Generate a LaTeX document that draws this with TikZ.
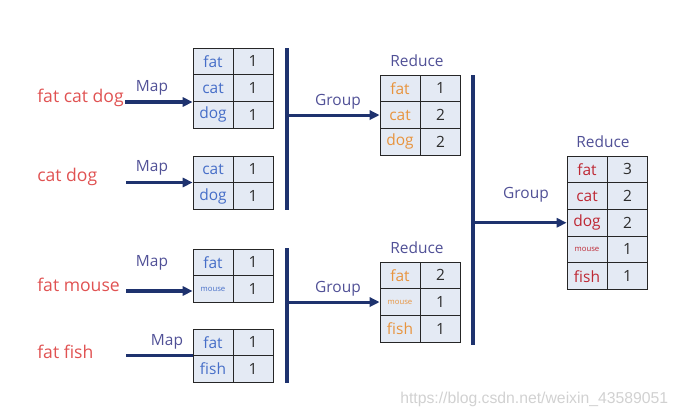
\documentclass[tikz,border=0pt]{standalone}
\usepackage{fontspec}
\setmainfont{Open Sans}
\newfontfamily\wmfont{Liberation Sans}
\usetikzlibrary{arrows.meta}
\definecolor{navy}{RGB}{30,50,110}
\definecolor{tabfill}{RGB}{228,234,244}
\definecolor{inrot}{RGB}{224,82,82}
\definecolor{labblau}{RGB}{80,80,150}
\definecolor{keyblau}{RGB}{70,110,200}
\definecolor{keyorange}{RGB}{232,148,62}
\definecolor{keyrot}{RGB}{190,40,52}
\definecolor{valgrau}{RGB}{45,45,45}
\newcommand{\klein}[1]{{\fontsize{5.5}{6}\selectfont #1}}
\begin{document}
\begin{tikzpicture}[x=0.025cm,y=-0.025cm,
                    zelle/.style={draw=black!85,line width=0.6pt,fill=tabfill,minimum width=1cm,
                                  minimum height=0.667cm,inner sep=0pt,font=\fontsize{11}{12}\selectfont},
                    lab/.style={text=labblau,font=\fontsize{11}{12}\selectfont},
                    inp/.style={text=inrot,anchor=west,inner sep=0pt,font=\fontsize{12.5}{14}\selectfont},
                    pf/.style={-{Triangle[length=7pt,width=6.5pt]},line width=2.2pt,draw=navy},
                    balken/.style={line width=2.2pt,draw=navy},
                    ]
                    \useasboundingbox (0,0) rectangle (677,416);
                    %Eingaben
                    \node[inp] (in1) at (37,98) {fat cat dog};
                    \node[inp] (in2) at (37,177) {cat dog};
                    \node[inp] (in3) at (37,285) {fat mouse};
                    \node[inp] (in4) at (37,352) {fat fish};
                    %Tabellen nach Map
                    \foreach \k/\v [count=\i] in {fat/1,cat/1,dog/1}
                    {\node[zelle,text=keyblau] (ak\i) at (213,{48+26.7*(\i-0.5)}) {\k};
                     \node[zelle,text=valgrau] (av\i) at (253,{48+26.7*(\i-0.5)}) {\v};}
                    \foreach \k/\v [count=\i] in {cat/1,dog/1}
                    {\node[zelle,text=keyblau] (bk\i) at (213,{156+26.7*(\i-0.5)}) {\k};
                     \node[zelle,text=valgrau] (bv\i) at (253,{156+26.7*(\i-0.5)}) {\v};}
                    \foreach \k/\v [count=\i] in {fat/1,\klein{mouse}/1}
                    {\node[zelle,text=keyblau] (ck\i) at (213,{249+26.7*(\i-0.5)}) {\k};
                     \node[zelle,text=valgrau] (cv\i) at (253,{249+26.7*(\i-0.5)}) {\v};}
                    \foreach \k/\v [count=\i] in {fat/1,fish/1}
                    {\node[zelle,text=keyblau] (dk\i) at (213,{329+26.7*(\i-0.5)}) {\k};
                     \node[zelle,text=valgrau] (dv\i) at (253,{329+26.7*(\i-0.5)}) {\v};}
                    %Map-Pfeile
                    \node[lab] (map1) at (152,88) {Map};
                    \node[lab] (map2) at (152,168) {Map};
                    \node[lab] (map3) at (152,263) {Map};
                    \node[lab] (map4) at (167,342) {Map};
                    \coordinate (s1) at (125,102);
                    \coordinate (s2) at (126,182.5);
                    \coordinate (s3) at (126,291);
                    \coordinate (s4) at (126,355.7);
                    \draw[pf] (s1) -- (s1 -| ak2.west);
                    \draw[pf] (s2) -- (s2 -| bk1.west);
                    \draw[pf] (s3) -- (s3 -| ck2.west);
                    \draw[balken] (s4) -- (s4 -| dk1.west);
                    %Tabellen nach Reduce
                    \node[lab] (red1) at (417,61) {Reduce};
                    \foreach \k/\v [count=\i] in {fat/1,cat/2,dog/2}
                    {\node[zelle,text=keyorange] (rk\i) at (400,{75+26.7*(\i-0.5)}) {\k};
                     \node[zelle,text=valgrau] (rv\i) at (440.5,{75+26.7*(\i-0.5)}) {\v};}
                    \node[lab] (red2) at (417,248) {Reduce};
                    \foreach \k/\v [count=\i] in {fat/2,\klein{mouse}/1,fish/1}
                    {\node[zelle,text=keyorange] (sk\i) at (400,{262+26.7*(\i-0.5)}) {\k};
                     \node[zelle,text=valgrau] (sv\i) at (440.5,{262+26.7*(\i-0.5)}) {\v};}
                    %Group-Balken und Pfeile
                    \coordinate (g1o) at (287,48);
                    \coordinate (g1u) at (287,210);
                    \coordinate (g2o) at (287,248);
                    \coordinate (g2u) at (287,383);
                    \draw[balken] (g1o) -- (g1u);
                    \draw[balken] (g2o) -- (g2u);
                    \node[lab] (grp1) at (338,102) {Group};
                    \node[lab] (grp2) at (338,289) {Group};
                    \draw[pf] (g1o |- rk2.west) -- (rk2.west);
                    \draw[pf] (g2o |- sk2.west) -- (sk2.west);
                    %Endergebnis
                    \coordinate (g3o) at (473,75);
                    \coordinate (g3u) at (473,345);
                    \draw[balken] (g3o) -- (g3u);
                    \node[lab] (grp3) at (526,195) {Group};
                    \node[lab] (red3) at (603,142) {Reduce};
                    \foreach \k/\v [count=\i] in {fat/3,cat/2,dog/2,\klein{mouse}/1,fish/1}
                    {\node[zelle,text=keyrot] (fk\i) at (587,{156+26.7*(\i-0.5)}) {\k};
                     \node[zelle,text=valgrau] (fv\i) at (627.5,{156+26.7*(\i-0.5)}) {\v};}
                    \draw[pf] (g3o |- fk3.west) -- (fk3.west);
                    %Wasserzeichen
                    \node[anchor=west,inner sep=0pt,text=black!18,font=\wmfont\fontsize{11.2}{12}\selectfont] (wm) at (400,399) {https://blog.csdn.net/weixin\_43589051};
\end{tikzpicture}
\end{document}
